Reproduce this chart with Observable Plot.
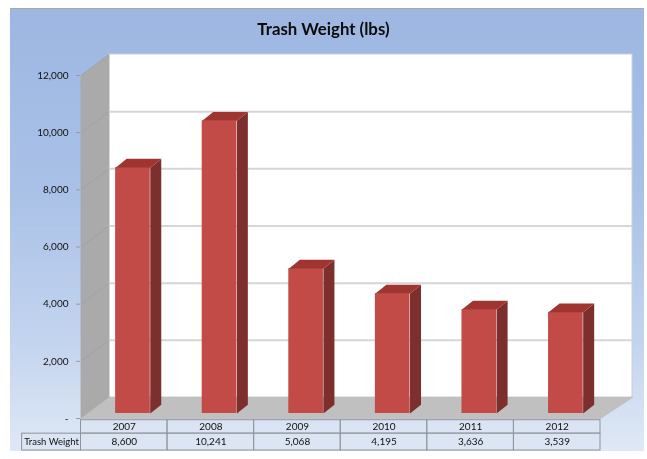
<!DOCTYPE html>
<html><head><meta charset="utf-8">
<script src="https://cdn.jsdelivr.net/npm/d3@7"></script>
<script src="https://cdn.jsdelivr.net/npm/@observablehq/plot@0.6"></script>
<style>
html,body{margin:0;padding:0;background:#fff}
#bg{position:absolute;left:10px;top:8px;width:634px;height:443px;border-top:1px solid #a8a8a8;box-sizing:border-box;background:linear-gradient(#9db7e2 0%,#a9c1e7 40%,#c3d4ee 75%,#dfe8f6 100%)}
#chart{position:absolute;left:0;top:0}
svg{display:block;background:transparent!important;filter:blur(0.35px)}
</style></head><body><div id="bg"></div><div id="chart"></div>
<script>
const years = ["2007","2008","2009","2010","2011","2012"];
const weights = [8600,10241,5068,4195,3636,3539];
const ticks = [0,2000,4000,6000,8000,10000,12000];
const rowLabel = "Trash Weight";
const title = "Trash Weight (lbs)";

// depth of the 3-D box, expressed in data units
const depthX = 0.325, depthY = 735, rightExtra = 0.045;
const barL = 0.40, barW = 0.40, barDy = 175, barDepthX = 0.127, barDepthY = 310;
const rowH = 530;
const n = years.length;
const rows = weights.map((v,i)=>({year:years[i],v,i}));
const grid = ticks.slice(1).map(t=>({t}));

const poly = (pts,id)=>pts.map(p=>({x:p[0],y:p[1],id}));
const wallSide = poly([[0,0],[depthX,depthY],[depthX,12000+depthY],[0,12000]],"s");
const floorFace = poly([[0,0],[n,0],[n+depthX+rightExtra,depthY],[depthX,depthY]],"f");
const backWall = [{x1:depthX,x2:n+depthX+rightExtra,y1:depthY,y2:12000+depthY}];

const barTops = rows.flatMap(d=>poly([
  [d.i+barL,d.v+barDy],[d.i+barL+barW,d.v+barDy],
  [d.i+barL+barW+barDepthX,d.v+barDy+barDepthY],[d.i+barL+barDepthX,d.v+barDy+barDepthY]],d.year));
const barSides = rows.flatMap(d=>poly([
  [d.i+barL+barW,barDy],[d.i+barL+barW+barDepthX,barDy+barDepthY],
  [d.i+barL+barW+barDepthX,d.v+barDy+barDepthY],[d.i+barL+barW,d.v+barDy]],d.year));

const plot = Plot.plot({
  width:647,height:459,margin:0,marginLeft:80,
  style:{background:"transparent",fontFamily:"Lato, sans-serif",fontSize:"10px",color:"#222"},
  x:{type:"linear",domain:[0,n],range:[80.5,600],axis:null},
  y:{type:"linear",domain:[0,12000],range:[418,75],axis:null},
  marks:[
    Plot.rect(backWall,{x1:"x1",x2:"x2",y1:"y1",y2:"y2",fill:"#fff",stroke:"#c9ced6",strokeWidth:1}),
    Plot.line(wallSide,{x:"x",y:"y",z:"id",fill:"#aaaaaa",stroke:"#a6a6a6",strokeWidth:0.5,curve:"linear-closed"}),
    Plot.line(floorFace,{x:"x",y:"y",z:"id",fill:"#c0c0c0",stroke:"#b4b4b4",strokeWidth:0.5,curve:"linear-closed"}),
    Plot.ruleY(grid.filter(d=>d.t<12000),{y:d=>d.t+depthY,x1:depthX,x2:n+depthX+rightExtra,stroke:"#d6d6d6",strokeWidth:2}),
    Plot.link(grid,{x1:0,y1:d=>d.t,x2:depthX,y2:d=>d.t+depthY,stroke:"#a2a2a2",strokeWidth:1}),
    Plot.line(barSides,{x:"x",y:"y",z:"id",fill:"#7d2f2d",curve:"linear-closed"}),
    Plot.rect(rows,{x1:d=>d.i+barL,x2:d=>d.i+barL+barW,y1:barDy,y2:d=>d.v+barDy,fill:"#c24b47"}),
    Plot.line(barTops,{x:"x",y:"y",z:"id",fill:"#a03431",curve:"linear-closed"}),
    Plot.axisY(ticks,{anchor:"left",tickSize:4,tickPadding:8,stroke:"#9a9a9a",fill:"#111",
      tickFormat:d=>d===0?"-":d3.format(",")(d),fontSize:10}),
    // data table
    Plot.rect(years,{x1:(d,i)=>i,x2:(d,i)=>i+1,y1:-rowH,y2:-60,stroke:"#8e939c",fill:"#dbe4f2",fillOpacity:0.5,strokeWidth:1}),
    Plot.rect(years,{x1:(d,i)=>i,x2:(d,i)=>i+1,y1:-2*rowH-60,y2:-rowH,stroke:"#8e939c",fill:"#dbe4f2",fillOpacity:0.5,strokeWidth:1}),
    Plot.rect([rowLabel],{x1:-0.68,x2:0,y1:-2*rowH-60,y2:-rowH,stroke:"#8e939c",fill:"#dbe4f2",fillOpacity:0.5,strokeWidth:1}),
    Plot.text(years,{x:(d,i)=>i+0.5,y:-rowH/2-30,text:d=>d,fontSize:10,fill:"#111"}),
    Plot.text(weights,{x:(d,i)=>i+0.5,y:-1.5*rowH-30,text:d=>d3.format(",")(d),fontSize:10,fill:"#111"}),
    Plot.text([rowLabel],{x:-0.34,y:-1.5*rowH-30,text:d=>d,fontSize:9.5,fill:"#111"}),
    Plot.text([title],{x:2.8,y:12000,dy:-46,text:d=>d,fontSize:16.8,fontWeight:"bold",fill:"#0a0a0a"})
  ]
});
document.getElementById("chart").append(plot);
</script></body></html>
